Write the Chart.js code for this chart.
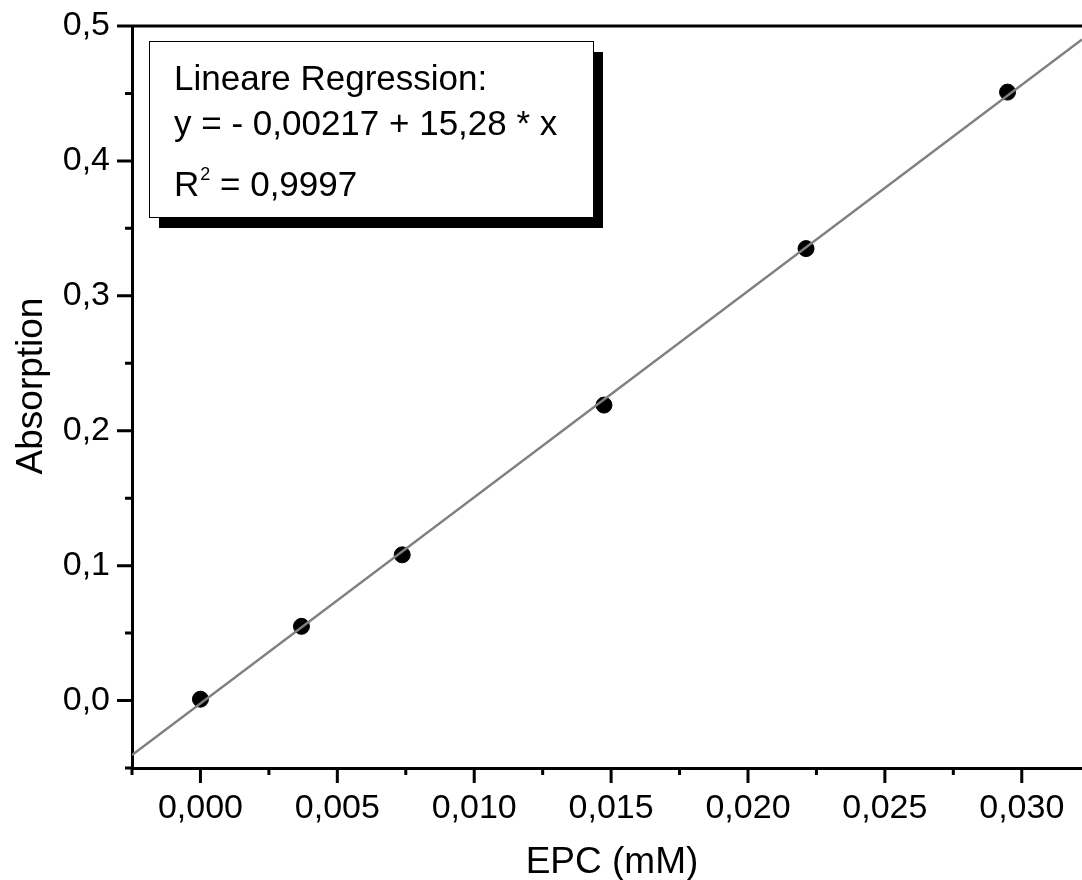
<!DOCTYPE html>
<html>
<head>
<meta charset="utf-8">
<script src="https://cdn.jsdelivr.net/npm/chart.js@4.4.1/dist/chart.umd.min.js"></script>
<style>
  body { margin: 0; background: #fff; overflow: hidden; }
</style>
</head>
<body>
<canvas id="chart" width="1082" height="880"></canvas>
<script>
// measured points (EPC in mM vs absorption)
const epc = [0, 0.00369, 0.00737, 0.01474, 0.02212, 0.02948];
const absorption = [0.001, 0.055, 0.108, 0.219, 0.335, 0.451];

// regression line, read at the left and right edge of the plot
const fitX = [-0.0025, 0.0322];
const fitY = [-0.0404, 0.490];

const legendLines = ['Lineare Regression:', 'y = - 0,00217 + 15,28 * x'];
const rSquared = '0,9997';
const xTitle = 'EPC (mM)';
const yTitle = 'Absorption';

const FONT = '"Liberation Sans", Arial, sans-serif';

const isMajor = (v, step) => Math.abs(v / step - Math.round(v / step)) < 1e-6;

// draws the outside tick marks (long major, short minor), top frame, axis titles and the fit box
const decorations = {
  id: 'decorations',
  afterDraw(chart) {
    const ctx = chart.ctx;
    const ca = chart.chartArea;
    const xs = chart.scales.x;
    const ys = chart.scales.y;
    ctx.save();
    ctx.strokeStyle = '#000';
    ctx.lineWidth = 3;
    ctx.beginPath();
    xs.ticks.forEach(t => {
      const px = xs.getPixelForValue(t.value);
      const len = isMajor(t.value, 0.005) ? 15 : 7;
      ctx.moveTo(px, ca.bottom);
      ctx.lineTo(px, ca.bottom + len);
    });
    ys.ticks.forEach(t => {
      const py = ys.getPixelForValue(t.value);
      const len = isMajor(t.value, 0.1) ? 15 : 7;
      ctx.moveTo(ca.left, py);
      ctx.lineTo(ca.left - len, py);
    });
    // top frame
    ctx.moveTo(ca.left - 1.5, ca.top);
    ctx.lineTo(ca.right, ca.top);
    ctx.stroke();

    // axis titles
    ctx.fillStyle = '#000';
    ctx.font = '37px ' + FONT;
    ctx.textAlign = 'center';
    ctx.textBaseline = 'alphabetic';
    ctx.fillText(xTitle, ca.left + 480, ca.bottom + 105);
    ctx.save();
    ctx.translate(ca.left - 90, ca.top + 360);
    ctx.rotate(-Math.PI / 2);
    ctx.fillText(yTitle, 0, 0);
    ctx.restore();

    // regression box with drop shadow
    const bx = ca.left + 17, by = ca.top + 15, bw = 444, bh = 176;
    ctx.fillStyle = '#000';
    ctx.fillRect(bx + 10, by + 11, bw, bh);
    ctx.fillStyle = '#fff';
    ctx.fillRect(bx, by, bw, bh);
    ctx.lineWidth = 1;
    ctx.strokeRect(bx + 0.5, by + 0.5, bw, bh);

    ctx.fillStyle = '#000';
    ctx.textAlign = 'left';
    ctx.font = '35px ' + FONT;
    const tx = bx + 25;
    ctx.fillText(legendLines[0], tx, by + 49);
    ctx.fillText(legendLines[1], tx, by + 94);
    ctx.fillText('R', tx, by + 155);
    const rw = ctx.measureText('R').width;
    ctx.font = '18px ' + FONT;
    ctx.fillText('2', tx + rw + 1, by + 139);
    const sw = ctx.measureText('2').width;
    ctx.font = '35px ' + FONT;
    ctx.fillText(' = ' + rSquared, tx + rw + sw + 1, by + 155);
    ctx.restore();
  }
};

new Chart(document.getElementById('chart'), {
  type: 'scatter',
  data: {
    datasets: [
      {
        label: 'Fit',
        data: fitX.map((x, i) => ({ x: x, y: fitY[i] })),
        showLine: true,
        borderColor: '#808080',
        borderWidth: 2.5,
        pointRadius: 0
      },
      {
        label: 'Messwerte',
        data: epc.map((x, i) => ({ x: x, y: absorption[i] })),
        backgroundColor: '#000',
        borderColor: '#000',
        borderWidth: 1,
        pointRadius: 8
      }
    ]
  },
  options: {
    responsive: false,
    animation: false,
    layout: { autoPadding: false, padding: { left: 0, top: 26, right: 0, bottom: 0 } },
    plugins: {
      legend: { display: false },
      tooltip: { enabled: false }
    },
    scales: {
      x: {
        type: 'linear',
        min: -0.0025,
        max: 0.0322,
        afterFit: (s) => { s.height = 112; s.paddingLeft = 0; s.paddingRight = 0; },
        grid: { display: true, drawOnChartArea: false, drawTicks: true, tickLength: 15, color: 'rgba(0,0,0,0)' },
        border: { display: true, color: '#000', width: 3 },
        ticks: {
          stepSize: 0.0025,
          includeBounds: false,
          maxRotation: 0,
          autoSkip: false,
          padding: 5,
          color: '#000',
          font: { family: FONT, size: 34 },
          callback: (v) => (isMajor(v, 0.005) && v > -1e-9) ? v.toFixed(3).replace('.', ',') : ''
        }
      },
      y: {
        type: 'linear',
        min: -0.05,
        max: 0.5,
        afterFit: (s) => { s.width = 132; s.paddingTop = 0; s.paddingBottom = 0; },
        grid: { display: true, drawOnChartArea: false, drawTicks: true, tickLength: 15, color: 'rgba(0,0,0,0)' },
        border: { display: true, color: '#000', width: 3 },
        ticks: {
          stepSize: 0.05,
          autoSkip: false,
          padding: 7,
          color: '#000',
          font: { family: FONT, size: 34 },
          callback: (v) => (isMajor(v, 0.1) && v > -1e-9) ? v.toFixed(1).replace('.', ',') : ''
        }
      }
    }
  },
  plugins: [decorations]
});
</script>
</body>
</html>
